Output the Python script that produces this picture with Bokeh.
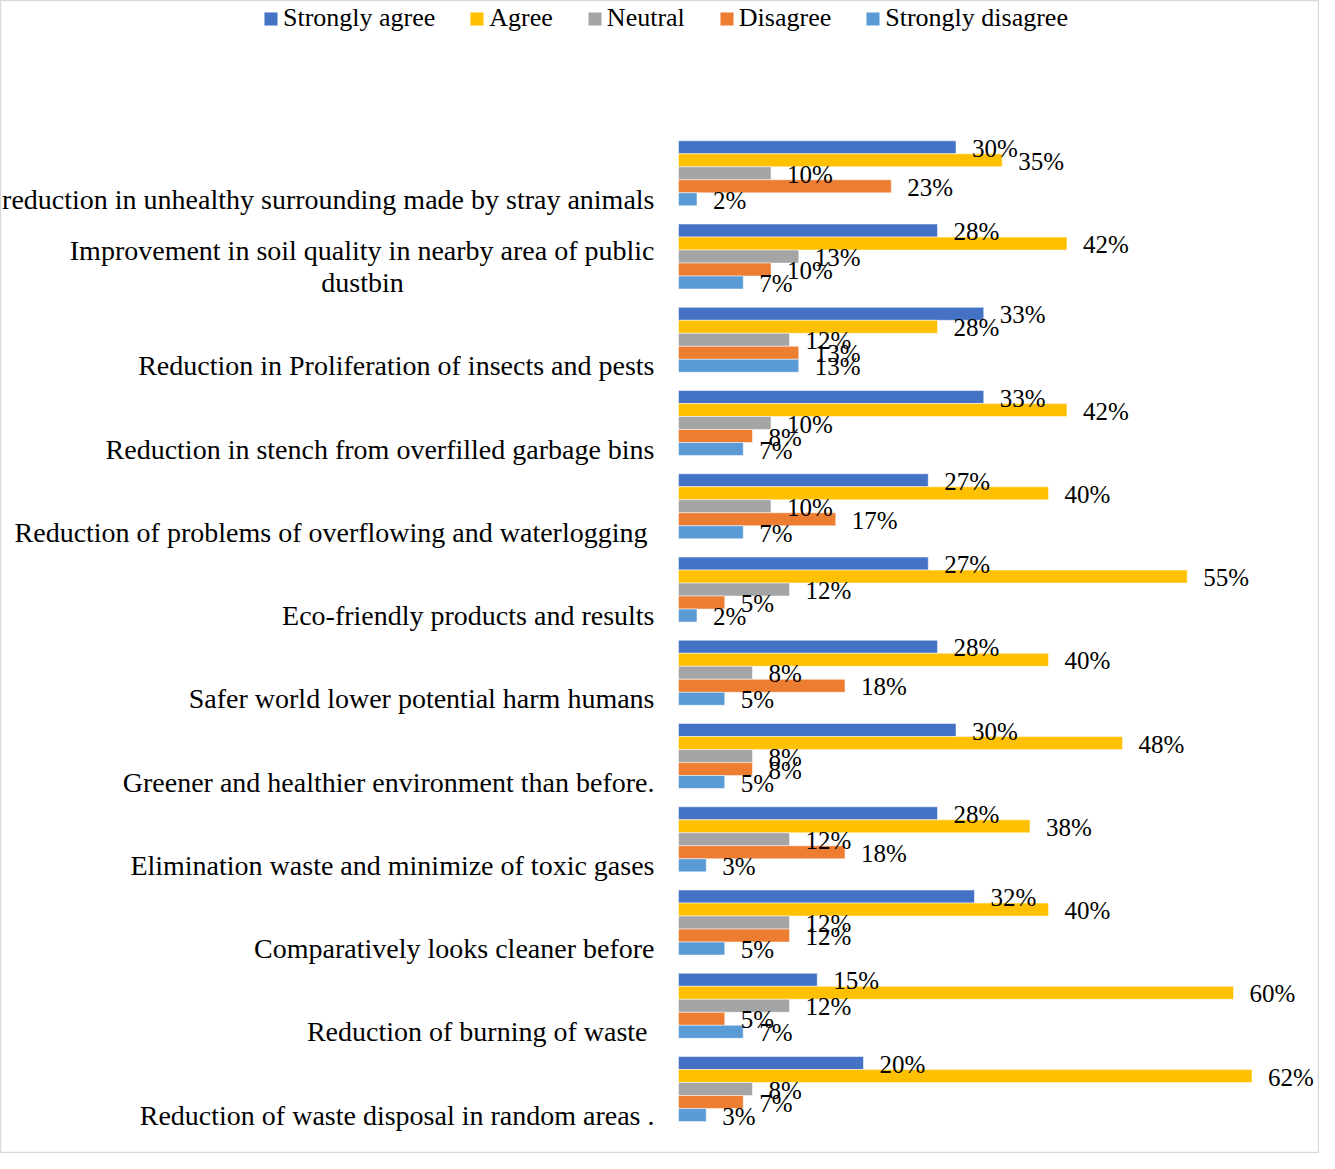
from bokeh.plotting import figure
from bokeh.models import Range1d, ColumnDataSource, Legend, LegendItem
from bokeh.core.properties import value
from bokeh.embed import file_html
from bokeh.resources import INLINE

categories = [
    "reduction in unhealthy surrounding made by stray animals",
    "Improvement in soil quality in nearby area of public\ndustbin",
    "Reduction in Proliferation of insects and pests",
    "Reduction in stench from overfilled garbage bins",
    "Reduction of problems of overflowing and waterlogging ",
    "Eco-friendly products and results",
    "Safer world lower potential harm humans",
    "Greener and healthier environment than before.",
    "Elimination waste and minimize of toxic gases",
    "Comparatively looks cleaner before",
    "Reduction of burning of waste ",
    "Reduction of waste disposal in random areas .",
]
series_names = ["Strongly agree", "Agree", "Neutral", "Disagree", "Strongly disagree"]
strongly_agree = [30, 28, 33, 33, 27, 27, 28, 30, 28, 32, 15, 20]
agree = [35, 42, 28, 42, 40, 55, 40, 48, 38, 40, 60, 62]
neutral = [10, 13, 12, 10, 10, 12, 8, 8, 12, 12, 12, 8]
disagree = [23, 10, 13, 8, 17, 5, 18, 8, 18, 12, 5, 7]
strongly_disagree = [2, 7, 13, 7, 7, 2, 5, 5, 3, 5, 7, 3]
series_values = [strongly_agree, agree, neutral, disagree, strongly_disagree]
colors = ["#4472C4", "#FFC000", "#A5A5A5", "#ED7D31", "#5B9BD5"]

W, H = 1319, 1153
PX_PER_UNIT = 9.25          # pixels per percent
ZERO_PX = 686 - 8           # frame pixel of 0 %
PITCH = 83.25               # pixels per category
CENTER0 = 180.8 - 8         # frame pixel of first group centre
BAR_H = 13.0 / PITCH
FIRST_LINE_HALF = 292       # half width of a wrapped label's first line

x_range = Range1d(-ZERO_PX / PX_PER_UNIT, (W - ZERO_PX) / PX_PER_UNIT)
y_range = Range1d((H - CENTER0) / PITCH, (0 - CENTER0) / PITCH)

p = figure(width=W, height=H, x_range=x_range, y_range=y_range,
           output_backend="svg", toolbar_location=None, min_border=0)
p.axis.visible = False
p.grid.visible = False
p.outline_line_color = "#D9D9D9"
p.outline_line_width = 1.5
p.background_fill_color = "white"
p.border_fill_color = "white"

font = value("Liberation Serif")
n = len(categories)
items = []
sources = []
for j, (name, vals, col) in enumerate(zip(series_names, series_values, colors)):
    ys = [i + (j - 2) * BAR_H for i in range(n)]
    src = ColumnDataSource(dict(y=ys, v=vals, lab=[f"{v}%" for v in vals]))
    sources.append(src)
    r = p.hbar(y="y", left=0, right="v", height=BAR_H, source=src,
               fill_color=col, line_color="white", line_alpha=0.5, line_width=1)
    items.append(LegendItem(label=name, renderers=[r]))

for src in sources:
    p.text(x="v", y="y", text="lab", source=src, x_offset=16, y_offset=1,
           text_font=font, text_font_size="25px", text_baseline="middle",
           text_align="left", text_color="#000000")

# category labels, aligned to the last bar of each group
ry, rt, ro = [], [], []
cy, ct, co = [], [], []
for i, c in enumerate(categories):
    lines = c.split("\n")
    for k, ln in enumerate(lines):
        off = -(len(lines) - 1 - k) * 32
        if k == 0:
            ry.append(i + 2 * BAR_H); rt.append(ln); ro.append(off)
        else:
            cy.append(i + 2 * BAR_H); ct.append(ln); co.append(off)
p.text(x=0, y="y", text="t", source=ColumnDataSource(dict(y=ry, t=rt, off=ro)),
       x_offset=-24, y_offset="off",
       text_font=font, text_font_size="28px", text_baseline="middle",
       text_align="right", text_color="#000000")
p.text(x=0, y="y", text="t", source=ColumnDataSource(dict(y=cy, t=ct, off=co)),
       x_offset=-24 - FIRST_LINE_HALF, y_offset="off",
       text_font=font, text_font_size="28px", text_baseline="middle",
       text_align="center", text_color="#000000")

legend = Legend(items=items, orientation="horizontal", location=(262, H - 33),
                glyph_width=17, glyph_height=17, label_standoff=4, spacing=33,
                padding=0, margin=0, border_line_color=None,
                background_fill_alpha=0, label_text_font="Liberation Serif",
                label_text_font_size="26px", label_text_color="#000000")
p.add_layout(legend, "center")

open("out.html", "w").write(file_html(p, INLINE))
